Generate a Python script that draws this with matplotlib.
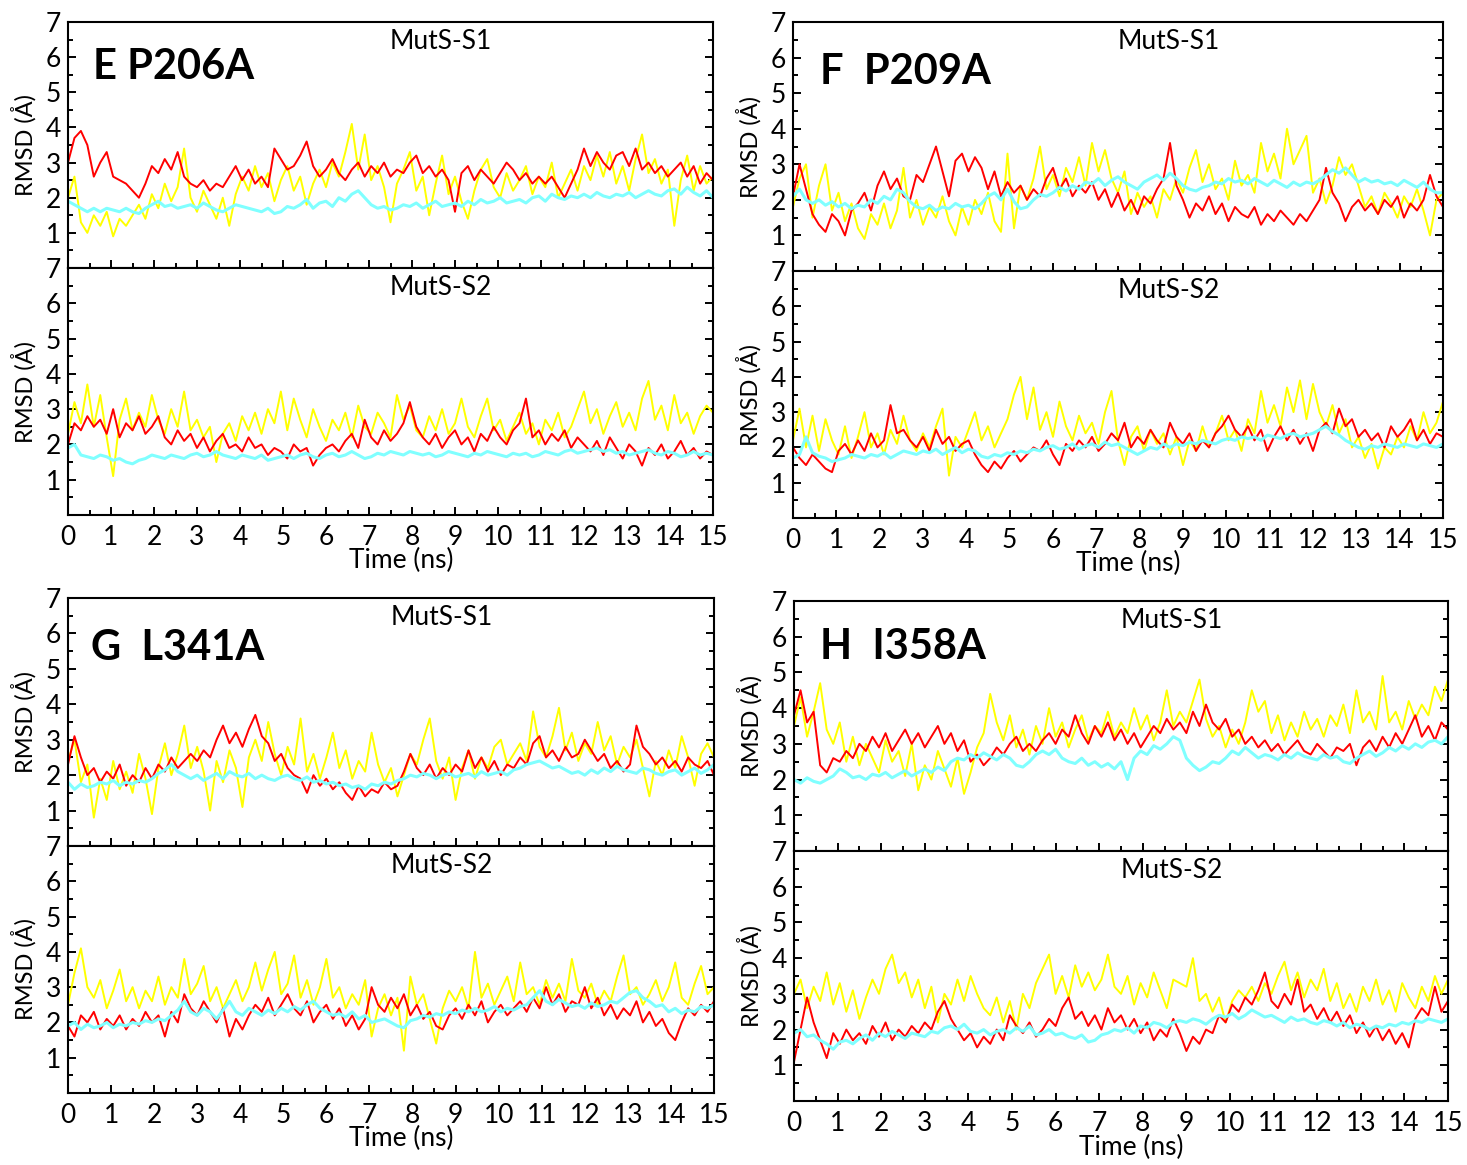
import numpy as np
import matplotlib
matplotlib.use("Agg")
import matplotlib.pyplot as plt
from matplotlib.ticker import MultipleLocator

plt.rcParams['font.family'] = ['Lato', 'DejaVu Sans']

# time axis (ns), 0.15 ns sampling
time_ns = np.linspace(0, 15, 101)

# ---------------- Panel E: P206A ----------------
e_s1_red = [3.0, 3.7, 3.9, 3.5, 2.6, 3.0, 3.3, 2.6, 2.5, 2.4,
            2.2, 2.0, 2.4, 2.9, 2.7, 3.1, 2.8, 3.3, 2.6, 2.4,
            2.3, 2.5, 2.2, 2.4, 2.3, 2.6, 2.9, 2.5, 2.8, 2.4,
            2.6, 2.3, 3.4, 3.1, 2.8, 2.9, 3.2, 3.6, 2.9, 2.6,
            2.8, 3.1, 2.7, 2.5, 2.8, 3.0, 2.6, 2.9, 2.7, 3.0,
            2.6, 2.8, 2.7, 3.0, 3.2, 2.7, 2.9, 2.6, 2.8, 2.5,
            1.6, 2.7, 2.9, 2.5, 2.8, 2.6, 2.4, 2.7, 3.0, 2.8,
            2.5, 2.7, 2.4, 2.6, 2.4, 2.6, 2.3, 2.0, 2.4, 2.8,
            3.4, 2.9, 3.3, 3.0, 2.8, 3.2, 3.3, 2.9, 3.4, 2.8,
            3.0, 2.7, 2.9, 2.6, 2.8, 3.0, 2.6, 2.9, 2.4, 2.7,
            2.5]
e_s1_yellow = [2.0, 2.6, 1.3, 1.0, 1.5, 1.2, 1.6, 0.9, 1.4, 1.2,
               1.5, 1.8, 1.4, 2.1, 1.7, 2.4, 1.9, 2.3, 3.4, 2.0,
               1.6, 2.2, 1.8, 1.4, 2.0, 1.2, 2.1, 2.6, 2.2, 2.9,
               2.3, 2.7, 1.9, 2.5, 2.9, 2.2, 2.6, 1.8, 2.4, 2.8,
               2.3, 3.0, 2.6, 3.3, 4.1, 2.8, 3.8, 2.5, 2.9, 2.3,
               1.3, 2.4, 2.8, 3.3, 2.2, 2.6, 1.5, 2.4, 3.2, 2.1,
               2.6, 1.9, 1.4, 2.2, 2.8, 3.1, 2.3, 2.0, 2.7, 2.2,
               2.5, 2.9, 2.1, 2.6, 2.3, 3.0, 2.0, 2.4, 2.8, 2.2,
               2.9, 2.5, 3.2, 2.6, 3.3, 2.4, 2.9, 2.2, 3.1, 3.8,
               2.7, 3.1, 2.4, 2.8, 1.2, 2.5, 3.2, 2.2, 2.9, 2.4,
               2.6]
e_s1_cyan = [1.9, 1.8, 1.7, 1.6, 1.7, 1.6, 1.7, 1.65, 1.6, 1.7,
             1.6, 1.55, 1.7, 1.8, 1.9, 1.75, 1.8, 1.7, 1.75, 1.8,
             1.7, 1.85, 1.75, 1.65, 1.6, 1.7, 1.8, 1.75, 1.7, 1.65,
             1.6, 1.7, 1.55, 1.6, 1.75, 1.7, 1.8, 1.95, 1.7, 1.85,
             1.9, 1.75, 2.0, 1.9, 2.1, 2.2, 2.0, 1.8, 1.7, 1.75,
             1.65, 1.7, 1.8, 1.75, 1.85, 1.7, 1.8, 1.9, 1.75, 1.8,
             1.85, 1.75, 1.9, 1.8, 1.95, 1.85, 1.9, 2.0, 1.85, 1.9,
             1.95, 1.85, 2.0, 2.05, 1.9, 2.1, 2.0, 1.95, 2.05, 2.0,
             2.1, 2.0, 2.15, 2.05, 2.0, 2.1, 2.05, 2.15, 2.0, 2.1,
             2.2, 2.1, 2.05, 2.2, 2.25, 2.1, 2.3, 2.15, 2.05, 2.2,
             2.0]
e_s2_red = [2.0, 2.6, 2.4, 2.8, 2.5, 2.7, 2.3, 3.0, 2.2, 2.6,
            2.4, 2.8, 2.3, 2.5, 2.8, 2.2, 2.0, 2.4, 2.1, 2.3,
            1.9, 2.2, 1.8, 2.1, 2.3, 1.9, 2.0, 1.8, 2.2, 1.9,
            2.0, 1.7, 1.9, 1.8, 1.6, 2.0, 1.8, 1.9, 1.4, 1.7,
            1.9, 2.0, 1.8, 2.1, 2.3, 1.9, 2.7, 2.2, 2.0, 2.4,
            2.1, 2.3, 2.6, 3.2, 2.5, 2.2, 2.0, 2.3, 1.9, 2.2,
            2.4, 2.0, 2.2, 1.8, 2.3, 2.1, 2.5, 2.2, 2.0, 2.4,
            2.6, 3.3, 2.2, 2.4, 2.0, 2.3, 2.1, 2.4, 1.9, 2.2,
            2.0, 1.8, 2.1, 1.7, 2.2, 1.9, 1.6, 2.0, 1.8, 1.4,
            1.9, 1.7, 2.0, 1.6, 1.8, 2.1, 1.7, 1.9, 1.6, 1.8,
            1.7]
e_s2_yellow = [2.3, 3.2, 2.6, 3.7, 2.5, 3.4, 2.2, 1.1, 2.7, 3.3,
               2.4, 2.9, 2.5, 3.4, 2.7, 2.3, 3.0, 2.5, 3.5, 2.4,
               2.7, 2.2, 2.5, 1.5, 2.3, 2.6, 2.1, 2.8, 2.4, 2.9,
               2.3, 3.0, 2.6, 3.5, 2.4, 3.3, 2.7, 2.2, 3.0, 2.5,
               2.1, 2.7, 2.4, 2.9, 2.2, 3.1, 2.5, 2.3, 2.9, 2.6,
               2.2, 3.4, 2.7, 3.1, 2.4, 2.2, 2.8, 2.4, 3.0, 2.3,
               2.6, 3.3, 2.5, 2.2, 2.8, 3.3, 2.4, 2.7, 2.1, 2.5,
               2.9, 2.3, 2.6, 2.0, 2.7, 2.4, 2.9, 2.2, 2.5, 3.0,
               3.5, 2.6, 3.0, 2.3, 2.8, 3.2, 2.5, 2.9, 2.4, 3.3,
               3.8, 2.7, 3.1, 2.4, 3.4, 2.6, 2.9, 2.3, 2.8, 3.1,
               2.9]
e_s2_cyan = [1.9, 2.0, 1.7, 1.65, 1.6, 1.7, 1.65, 1.55, 1.6, 1.5,
             1.45, 1.55, 1.6, 1.7, 1.65, 1.6, 1.7, 1.65, 1.6, 1.7,
             1.75, 1.65, 1.7, 1.8, 1.7, 1.65, 1.6, 1.7, 1.65, 1.6,
             1.7, 1.55, 1.6, 1.65, 1.7, 1.6, 1.7, 1.75, 1.65, 1.6,
             1.7, 1.75, 1.65, 1.7, 1.8, 1.7, 1.6, 1.65, 1.75, 1.7,
             1.8, 1.75, 1.7, 1.8, 1.75, 1.7, 1.75, 1.65, 1.7, 1.8,
             1.75, 1.7, 1.65, 1.75, 1.7, 1.8, 1.75, 1.7, 1.65, 1.75,
             1.7, 1.75, 1.65, 1.7, 1.8, 1.75, 1.7, 1.8, 1.85, 1.75,
             1.8, 1.85, 1.9, 1.8, 1.85, 1.75, 1.8, 1.7, 1.75, 1.8,
             1.85, 1.75, 1.7, 1.8, 1.75, 1.65, 1.7, 1.8, 1.7, 1.75,
             1.7]

# ---------------- Panel F: P209A ----------------
f_s1_red = [2.1, 3.0, 2.3, 1.6, 1.3, 1.1, 1.6, 1.4, 1.0, 1.7,
            1.9, 2.2, 1.7, 2.4, 2.8, 2.3, 2.6, 2.1, 2.0, 2.7,
            2.5, 3.0, 3.5, 2.8, 2.1, 3.1, 3.3, 2.8, 3.2, 2.9,
            2.3, 2.8, 2.1, 2.5, 2.2, 2.4, 2.0, 2.3, 2.1, 2.6,
            2.9, 2.3, 2.6, 2.1, 2.4, 2.2, 2.5, 2.0, 2.3, 1.8,
            2.2, 1.7, 2.0, 1.6, 2.1, 1.9, 2.3, 2.6, 3.6, 2.4,
            2.0, 1.5, 1.9, 1.7, 2.1, 1.6, 1.9, 1.4, 1.8, 1.6,
            1.5, 1.8, 1.3, 1.6, 1.4, 1.7, 1.5, 1.3, 1.6, 1.4,
            1.7, 2.0, 2.9, 2.2, 1.9, 1.4, 1.8, 2.0, 1.7, 1.9,
            1.6, 2.0, 1.8, 2.1, 1.5, 1.9, 1.7, 2.0, 2.7, 2.1,
            1.8]
f_s1_yellow = [1.8, 2.6, 3.0, 1.5, 2.4, 3.0, 1.7, 2.2, 1.4, 1.9,
               1.2, 0.9, 1.6, 1.3, 1.9, 1.2, 1.7, 2.9, 1.5, 2.0,
               1.3, 1.8, 1.5, 2.1, 1.4, 1.0, 1.8, 1.3, 2.0, 1.6,
               2.2, 1.4, 1.1, 3.3, 1.2, 2.4, 2.0, 2.6, 3.5, 2.3,
               2.7, 2.1, 2.9, 2.5, 3.2, 2.4, 3.6, 2.8, 3.4, 2.6,
               2.2, 2.8, 1.6, 2.2, 1.8, 2.1, 1.5, 2.3, 2.0, 2.6,
               2.2, 2.9, 3.4, 2.5, 3.0, 2.3, 2.6, 2.0, 3.1, 2.4,
               2.7, 2.2, 3.6, 2.8, 3.3, 2.6, 4.0, 3.0, 3.4, 3.8,
               2.2, 2.6, 1.9, 2.4, 3.2, 2.7, 3.0, 2.4, 1.8, 2.1,
               1.6, 2.2, 1.9, 1.5, 2.1, 1.8, 2.3, 1.7, 1.0, 2.0,
               2.2]
f_s1_cyan = [2.1, 2.3, 2.0, 1.9, 2.0, 1.85, 1.95, 1.8, 1.9, 1.75,
             1.85, 1.8, 2.0, 1.9, 2.1, 2.0, 2.3, 2.2, 1.95, 1.8,
             1.75, 1.85, 1.7, 1.8, 1.75, 1.9, 1.8, 1.85, 1.75, 1.9,
             2.1, 2.2, 2.0, 2.3, 1.95, 1.75, 1.8, 2.0, 2.15, 2.1,
             2.2, 2.35, 2.25, 2.4, 2.3, 2.5, 2.45, 2.6, 2.4, 2.55,
             2.65, 2.5, 2.4, 2.3, 2.5, 2.6, 2.7, 2.55, 2.75, 2.6,
             2.4, 2.3, 2.25, 2.35, 2.4, 2.5, 2.45, 2.6, 2.5, 2.55,
             2.45, 2.6, 2.5, 2.4, 2.55, 2.45, 2.35, 2.5, 2.4, 2.5,
             2.45, 2.55, 2.7, 2.85, 2.75, 2.9, 2.7, 2.5, 2.6, 2.5,
             2.55, 2.45, 2.5, 2.4, 2.55, 2.45, 2.35, 2.5, 2.3, 2.2,
             2.2]
f_s2_red = [2.0, 1.7, 1.5, 1.8, 1.6, 1.4, 1.3, 1.9, 2.1, 1.8,
            2.2, 1.9, 2.4, 2.0, 2.2, 3.2, 2.4, 2.5, 2.2, 2.0,
            2.3, 1.9, 2.5, 2.1, 2.3, 1.9, 2.1, 2.2, 1.8, 1.5,
            1.3, 1.6, 1.4, 1.7, 1.9, 1.6, 1.8, 2.0, 1.9, 2.2,
            1.8, 1.5, 2.1, 1.9, 2.2, 2.0, 2.3, 1.9, 2.1, 2.4,
            2.2, 2.7, 2.0, 2.3, 2.1, 2.5, 2.2, 2.0, 2.7, 2.3,
            2.1, 2.4, 1.9, 2.2, 2.0, 2.4, 2.6, 2.9, 2.5, 2.3,
            2.6, 2.2, 2.5, 1.9, 2.3, 2.6, 2.2, 2.5, 2.1, 2.4,
            1.9, 2.5, 2.7, 2.4, 3.1, 2.6, 2.8, 2.3, 2.5, 2.2,
            2.4, 2.0, 2.6, 2.3, 2.5, 2.8, 2.2, 2.5, 2.1, 2.4,
            2.3]
f_s2_yellow = [2.2, 3.1, 2.0, 2.9, 1.9, 2.8, 2.2, 1.8, 2.6, 1.7,
               2.3, 3.0, 2.0, 2.4, 1.8, 2.5, 2.1, 2.9, 2.2, 1.9,
               2.4, 2.0, 2.6, 3.1, 1.2, 2.3, 2.0, 2.5, 3.0, 2.2,
               2.6, 2.0, 2.4, 2.8, 3.5, 4.0, 2.8, 3.7, 2.5, 3.0,
               2.3, 3.3, 2.6, 2.2, 2.9, 2.4, 2.7, 2.1, 3.0, 3.6,
               2.2, 1.5, 2.3, 2.6, 1.9, 2.5, 2.1, 2.4, 1.8, 2.3,
               1.5, 2.2, 1.9, 2.6, 2.0, 2.4, 2.9, 2.2, 2.5, 1.9,
               2.8, 2.4, 3.6, 2.7, 3.2, 2.6, 3.7, 3.0, 3.9, 2.8,
               3.8, 3.0, 2.6, 3.2, 2.4, 2.8, 2.0, 2.3, 1.7, 2.1,
               1.4, 2.0, 1.8, 2.3, 2.0, 2.6, 2.2, 3.0, 2.4, 2.7,
               3.3]
f_s2_cyan = [1.7, 1.8, 2.3, 1.85, 1.75, 1.7, 1.6, 1.65, 1.7, 1.8,
             1.75, 1.7, 1.8, 1.75, 1.85, 1.7, 1.8, 1.9, 1.85, 1.8,
             1.9, 1.85, 1.95, 1.8, 1.9, 2.0, 1.85, 1.95, 1.9, 1.75,
             1.7, 1.8, 1.75, 1.85, 1.8, 1.9, 1.85, 1.95, 1.9, 2.0,
             2.05, 1.95, 2.0, 2.1, 1.95, 2.05, 2.1, 2.0, 2.15, 2.05,
             2.1, 2.0, 1.9, 1.8, 1.9, 2.0, 1.95, 2.1, 2.0, 2.1,
             2.05, 2.15, 2.1, 2.2, 2.15, 2.1, 2.2, 2.25, 2.2, 2.3,
             2.25, 2.3, 2.2, 2.35, 2.3, 2.25, 2.35, 2.4, 2.3, 2.35,
             2.4, 2.5, 2.6, 2.45, 2.35, 2.2, 2.1, 2.0, 1.95, 2.05,
             2.0, 2.1, 2.05, 2.0, 2.1, 2.05, 2.0, 2.1, 2.05, 2.0,
             2.1]

# ---------------- Panel G: L341A ----------------
g_s1_red = [2.3, 3.1, 2.5, 2.0, 2.2, 1.8, 2.1, 1.9, 2.3, 1.7,
            2.0, 1.8, 2.2, 1.9, 2.3, 2.1, 2.5, 2.2, 2.4, 2.6,
            2.4, 2.7, 2.5, 3.0, 3.4, 2.9, 3.2, 2.8, 3.3, 3.7,
            3.1, 2.9, 2.4, 2.6, 2.2, 2.0, 1.9, 1.5, 2.0, 1.7,
            1.9, 1.6, 1.8, 1.5, 1.3, 1.7, 1.4, 1.6, 1.5, 1.8,
            1.6, 1.7, 2.1, 2.6, 2.2, 2.0, 2.3, 1.9, 2.2, 2.0,
            2.3, 2.1, 2.7, 2.2, 2.5, 2.1, 2.4, 2.0, 2.3, 2.2,
            2.5, 2.3, 2.9, 3.1, 2.5, 2.7, 2.4, 2.8, 2.5, 2.6,
            3.0, 2.7, 2.4, 2.6, 2.2, 2.4, 2.1, 2.3, 3.4, 2.8,
            2.6, 2.3, 2.5, 2.2, 2.4, 2.1, 2.5, 2.3, 2.2, 2.4,
            2.0]
g_s1_yellow = [2.4, 3.0, 1.8, 2.3, 0.8, 1.9, 1.3, 2.4, 1.6, 2.1,
               1.5, 2.6, 1.9, 0.9, 2.2, 2.9, 2.0, 2.6, 3.4, 2.2,
               2.8, 2.1, 1.0, 2.4, 1.8, 2.7, 2.2, 1.1, 2.5, 3.0,
               2.4, 3.5, 2.6, 2.0, 2.8, 2.3, 3.6, 2.1, 2.6, 1.9,
               2.5, 3.2, 2.2, 2.7, 1.9, 2.4, 2.1, 3.2, 2.3, 1.8,
               2.2, 1.4, 2.0, 2.6, 2.3, 3.0, 3.6, 2.4, 1.9, 2.5,
               1.3, 2.2, 2.7, 1.9, 2.5, 2.2, 2.8, 3.0, 2.3, 2.6,
               2.9, 2.4, 3.8, 2.8, 2.5, 3.1, 3.9, 2.7, 3.2, 2.4,
               2.9, 2.6, 3.5, 2.7, 3.1, 2.3, 2.8, 2.5, 3.0, 2.2,
               1.4, 2.4, 2.0, 2.7, 2.2, 3.1, 2.5, 1.7, 2.6, 2.9,
               2.5]
g_s1_cyan = [1.8, 1.6, 1.75, 1.65, 1.7, 1.8, 1.75, 1.85, 1.7, 1.8,
             1.75, 1.85, 1.8, 1.9, 2.05, 2.15, 2.3, 2.1, 2.0, 1.9,
             2.0, 1.85, 1.95, 2.05, 1.9, 2.1, 2.0, 1.95, 2.05, 1.9,
             2.0, 1.9, 1.85, 1.95, 2.0, 1.9, 1.85, 1.95, 1.8, 1.85,
             1.75, 1.8, 1.7, 1.75, 1.65, 1.7, 1.6, 1.75, 1.7, 1.8,
             1.75, 1.85, 1.9, 2.0, 1.95, 2.05, 2.0, 1.9, 2.0, 2.05,
             1.95, 2.0, 2.05, 1.95, 2.1, 2.0, 2.05, 2.1, 2.0, 2.15,
             2.2, 2.3, 2.35, 2.4, 2.3, 2.2, 2.25, 2.15, 2.05, 2.1,
             2.0, 2.15, 2.05, 2.2, 2.1, 2.25, 2.15, 2.1, 2.05, 2.2,
             2.15, 2.05, 2.0, 2.1, 2.15, 2.0, 2.1, 2.2, 2.05, 2.15,
             2.3]
g_s2_red = [1.9, 1.6, 2.2, 2.0, 2.3, 1.8, 2.1, 1.9, 2.2, 1.8,
            2.1, 1.9, 2.3, 2.0, 2.2, 1.6, 2.3, 2.0, 2.8, 2.4,
            2.2, 2.6, 2.3, 2.0, 2.4, 1.6, 2.1, 1.8, 2.2, 2.5,
            2.3, 2.7, 2.2, 2.5, 2.8, 2.4, 2.2, 2.6, 2.0, 2.3,
            2.5, 2.1, 2.4, 1.9, 2.2, 1.8, 2.1, 3.0, 2.5, 2.3,
            2.7, 2.4, 2.8, 2.2, 2.5, 2.1, 2.3, 1.9, 1.8, 2.2,
            2.4, 2.1, 2.5, 2.2, 2.6, 2.0, 2.3, 2.5, 2.2, 2.4,
            2.6, 2.3, 2.7, 2.4, 3.0, 2.5, 2.8, 2.3, 2.6, 2.5,
            3.0, 2.4, 2.7, 2.2, 2.5, 2.1, 2.4, 2.2, 2.6, 2.0,
            2.3, 1.9, 2.1, 1.7, 1.5, 2.0, 2.4, 2.2, 2.5, 2.3,
            2.6]
g_s2_yellow = [2.5, 3.4, 4.1, 3.0, 2.7, 3.2, 2.4, 2.9, 3.5, 2.6,
               3.0, 2.4, 2.9, 2.6, 3.3, 2.5, 3.0, 2.7, 3.8, 2.8,
               3.1, 3.6, 2.6, 3.0, 2.4, 2.8, 3.2, 2.6, 3.0, 3.7,
               2.9, 3.5, 4.0, 2.8, 3.1, 3.9, 2.7, 3.2, 2.5, 3.0,
               3.8, 2.7, 3.0, 2.4, 2.8, 2.5, 3.2, 1.6, 2.4, 2.8,
               2.2, 2.7, 1.2, 3.3, 2.5, 2.8, 2.1, 1.4, 2.4, 2.9,
               2.6, 3.0, 2.4, 4.0, 2.7, 3.1, 2.5, 2.9, 3.3, 2.6,
               3.7, 2.8, 3.0, 2.5, 3.2, 2.7, 3.1, 2.6, 3.8, 2.9,
               2.7, 3.1, 2.5, 2.9, 2.6, 3.3, 3.9, 2.8, 3.0, 2.5,
               2.8, 3.2, 2.6, 3.0, 3.7, 2.7, 2.5, 3.1, 3.6, 2.8,
               3.0]
g_s2_cyan = [1.9, 2.0, 1.8, 1.95, 1.85, 1.9, 2.0, 1.85, 1.95, 1.9,
             2.0, 1.95, 2.05, 2.0, 2.1, 2.05, 2.2, 2.35, 2.6, 2.3,
             2.2, 2.4, 2.3, 2.1, 2.35, 2.6, 2.3, 2.2, 2.4, 2.3,
             2.2, 2.35, 2.25, 2.4, 2.3, 2.45, 2.35, 2.5, 2.6, 2.4,
             2.3, 2.2, 2.25, 2.15, 2.3, 2.1, 2.2, 2.0, 2.05, 2.1,
             2.0, 1.9, 1.85, 2.05, 2.1, 2.2, 2.15, 2.25, 2.2, 2.3,
             2.25, 2.35, 2.3, 2.4, 2.3, 2.35, 2.45, 2.3, 2.4, 2.35,
             2.45, 2.5, 2.7, 2.9, 2.6, 2.5, 2.65, 2.55, 2.45, 2.5,
             2.4, 2.55, 2.45, 2.5, 2.6, 2.55, 2.7, 2.85, 2.9, 2.7,
             2.6, 2.45, 2.5, 2.3, 2.4, 2.25, 2.35, 2.3, 2.45, 2.4,
             2.5]

# ---------------- Panel H: I358A ----------------
h_s1_red = [3.8, 4.5, 3.6, 3.9, 2.4, 2.2, 2.6, 2.5, 2.8, 2.6,
            3.0, 2.8, 3.2, 2.9, 3.3, 2.8, 3.1, 3.4, 3.0, 3.3,
            2.9, 3.2, 3.5, 3.0, 3.3, 2.8, 3.1, 2.5, 2.7, 2.4,
            2.6, 2.9, 2.7, 3.0, 3.2, 2.8, 3.0, 2.8, 3.1, 3.3,
            3.0, 3.4, 3.2, 3.8, 3.3, 3.0, 3.5, 3.2, 3.6, 3.1,
            3.4, 3.0, 3.3, 2.9, 3.2, 3.5, 3.3, 3.7, 3.4, 3.6,
            3.3, 3.9, 3.5, 4.1, 3.6, 3.4, 3.7, 3.2, 3.4, 3.0,
            3.2, 2.9, 3.1, 2.8, 3.0, 2.7, 2.9, 3.1, 2.8, 2.7,
            3.0, 2.8, 2.6, 2.9, 2.8, 3.0, 2.4, 2.9, 3.1, 2.8,
            3.2, 2.9, 3.3, 3.0, 3.4, 3.8, 3.2, 3.5, 3.1, 3.6,
            3.4]
h_s1_yellow = [3.5, 4.3, 3.2, 3.9, 4.7, 3.4, 3.0, 3.6, 2.5, 3.2,
               2.4, 3.0, 2.6, 2.2, 3.1, 2.5, 2.8, 2.1, 3.0, 1.7,
               2.4, 2.0, 2.8, 2.3, 1.8, 2.6, 1.6, 2.2, 2.9, 3.3,
               4.4, 3.6, 3.1, 3.8, 2.9, 3.4, 2.7, 3.5, 3.0, 4.0,
               3.2, 3.6, 2.9, 3.4, 3.8, 3.1, 3.5, 3.3, 3.9, 3.2,
               3.6, 3.3, 4.0, 3.4, 3.8, 3.1, 3.6, 4.5, 3.5, 3.9,
               3.6, 4.2, 4.8, 3.7, 3.2, 3.5, 2.9, 3.4, 3.0, 3.6,
               4.5, 3.9, 4.2, 3.3, 3.8, 3.1, 3.6, 3.2, 3.9, 3.4,
               3.7, 3.2, 3.8, 3.5, 4.1, 3.3, 4.5, 3.6, 3.9, 3.4,
               4.9, 3.6, 3.9, 3.4, 4.2, 3.7, 4.1, 3.8, 4.6, 4.2,
               4.8]
h_s1_cyan = [2.0, 1.9, 2.05, 1.95, 1.9, 2.0, 2.1, 2.3, 2.2, 2.05,
             2.1, 2.0, 2.15, 2.1, 2.2, 2.05, 2.15, 2.25, 2.1, 2.2,
             2.3, 2.2, 2.35, 2.25, 2.5, 2.6, 2.55, 2.7, 2.6, 2.75,
             2.65, 2.55, 2.7, 2.6, 2.4, 2.35, 2.5, 2.7, 2.8, 2.7,
             2.85, 2.6, 2.5, 2.45, 2.6, 2.4, 2.5, 2.35, 2.45, 2.3,
             2.5, 2.0, 2.6, 2.8, 2.7, 2.95, 2.85, 3.0, 3.2, 3.1,
             2.6, 2.4, 2.25, 2.35, 2.5, 2.45, 2.6, 2.8, 2.7, 2.9,
             2.75, 2.6, 2.7, 2.65, 2.55, 2.7, 2.6, 2.75, 2.65, 2.6,
             2.55, 2.7, 2.6, 2.65, 2.5, 2.45, 2.6, 2.7, 2.8, 2.65,
             2.75, 2.9, 2.8, 2.95, 2.85, 3.0, 2.9, 3.05, 3.1, 3.0,
             3.2]
h_s2_red = [1.1, 2.0, 2.9, 2.2, 1.7, 1.2, 1.9, 1.6, 2.0, 1.7,
            1.9, 1.6, 2.1, 1.8, 2.2, 1.7, 2.0, 1.8, 2.1, 1.9,
            2.2, 2.0, 2.5, 2.8, 2.3, 2.0, 1.7, 1.9, 1.5, 1.8,
            1.6, 2.0, 1.7, 2.4, 2.1, 1.9, 2.2, 1.8, 2.0, 2.3,
            2.1, 2.6, 2.9, 2.3, 2.5, 2.1, 2.4, 2.0, 2.6, 2.2,
            2.4, 2.0, 2.3, 1.9, 2.2, 1.7, 2.0, 1.8, 2.3, 1.9,
            1.4, 1.8, 1.6, 2.0, 1.9, 2.4, 2.2, 2.7, 2.5, 2.9,
            2.7, 3.1, 3.6, 2.8, 2.6, 3.0, 2.7, 3.4, 2.5, 2.7,
            2.3, 2.6, 2.2, 2.5, 2.1, 2.4, 1.9, 2.2, 1.8, 2.1,
            1.7, 2.0, 1.6, 1.9, 1.5, 2.3, 2.6, 2.4, 3.2, 2.5,
            2.8]
h_s2_yellow = [3.0, 3.4, 2.6, 3.2, 2.8, 3.6, 2.7, 3.3, 2.5, 3.1,
               2.3, 2.9, 3.4, 3.0, 3.7, 4.1, 3.3, 3.6, 2.9, 3.4,
               2.6, 3.2, 2.2, 3.0, 2.7, 3.4, 2.8, 3.5, 3.0, 2.6,
               2.4, 2.9, 2.2, 2.8, 2.0, 3.0, 2.6, 3.3, 3.7, 4.1,
               3.0, 3.5, 2.9, 3.8, 3.2, 3.6, 3.1, 3.4, 4.1, 3.2,
               3.0, 3.5, 2.7, 3.3, 2.9, 3.6, 3.1, 2.6, 3.4, 3.3,
               3.2, 4.0, 2.8, 3.0, 2.5, 2.9, 2.2, 2.8, 3.1, 2.9,
               3.2, 2.8, 3.3, 3.0, 3.5, 3.9, 3.1, 3.6, 2.9, 3.4,
               3.1, 3.7, 2.8, 3.3, 2.6, 3.0, 2.5, 3.2, 2.8, 3.4,
               2.7, 3.1, 2.5, 3.3, 2.9, 2.6, 3.2, 2.8, 3.5, 3.0,
               3.4]
h_s2_cyan = [1.9, 2.0, 1.8, 1.85, 1.7, 1.6, 1.45, 1.65, 1.7, 1.6,
             1.75, 1.85, 1.7, 1.9, 1.8, 1.95, 1.85, 1.75, 1.9, 1.85,
             1.8, 1.95, 1.9, 2.05, 2.1, 2.0, 2.15, 1.95, 1.9, 2.0,
             1.85, 1.95, 2.0, 1.9, 2.05, 1.95, 2.1, 1.85, 1.9, 2.0,
             1.85, 1.9, 1.8, 1.75, 1.85, 1.65, 1.7, 1.85, 1.9, 2.0,
             1.95, 2.05, 1.9, 2.1, 2.05, 2.2, 2.15, 2.05, 2.2, 2.25,
             2.2, 2.3, 2.25, 2.15, 2.3, 2.4, 2.35, 2.45, 2.3, 2.4,
             2.55, 2.45, 2.35, 2.4, 2.3, 2.2, 2.35, 2.25, 2.3, 2.2,
             2.15, 2.25, 2.2, 2.1, 2.2, 2.05, 2.15, 2.1, 2.0, 2.1,
             2.05, 2.15, 2.1, 2.2, 2.15, 2.25, 2.2, 2.3, 2.25, 2.2,
             2.3]

panel_titles = ["E P206A", "F  P209A", "G  L341A", "H  I358A"]
sub_titles = ["MutS-S1", "MutS-S2"]
x_ticks = list(range(0, 16))
y_ticks = [1, 2, 3, 4, 5, 6, 7]

series = [
    [(e_s1_red, e_s1_yellow, e_s1_cyan), (e_s2_red, e_s2_yellow, e_s2_cyan)],
    [(f_s1_red, f_s1_yellow, f_s1_cyan), (f_s2_red, f_s2_yellow, f_s2_cyan)],
    [(g_s1_red, g_s1_yellow, g_s1_cyan), (g_s2_red, g_s2_yellow, g_s2_cyan)],
    [(h_s1_red, h_s1_yellow, h_s1_cyan), (h_s2_red, h_s2_yellow, h_s2_cyan)],
]

W, H = 1467, 1165
# pixel boxes: (left, right, top_of_top, boundary, bottom)
boxes = [
    (68, 713, 22, 268, 515),
    (793, 1443, 22, 271, 518),
    (68, 714, 598, 846, 1093),
    (794, 1448, 601, 851, 1101),
]
title_pos = [(0.039, 0.817), (0.042, 0.80), (0.036, 0.80), (0.04, 0.816)]

RED, YEL, CYA = "#ff0000", "#ffff00", "#80ffff"

fig = plt.figure(figsize=(W / 100, H / 100), dpi=100)


def style_axis(ax, bottom_labels):
    ax.set_xlim(0, 15)
    ax.set_ylim(0, 7)
    ax.set_xticks(x_ticks)
    ax.set_yticks(y_ticks)
    ax.xaxis.set_minor_locator(MultipleLocator(0.5))
    ax.yaxis.set_minor_locator(MultipleLocator(0.5))
    ax.tick_params(axis="both", which="both", direction="in", width=1.4,
                   top=False, right=True, left=True, bottom=True)
    ax.tick_params(axis="both", which="major", length=5.5)
    ax.tick_params(axis="both", which="minor", length=3.5)
    ax.tick_params(axis="y", which="major", labelsize=19, pad=5)
    ax.tick_params(axis="x", which="major", labelsize=19, pad=7,
                   labelbottom=bottom_labels)
    for sp in ax.spines.values():
        sp.set_linewidth(1.5)


for p, (l, r, t, mid, b) in enumerate(boxes):
    for k, (y0, y1) in enumerate([(t, mid), (mid, b)]):
        rect = [l / W, 1 - y1 / H, (r - l) / W, (y1 - y0) / H]
        ax = fig.add_axes(rect)
        red, yel, cya = series[p][k]
        ax.plot(time_ns, yel, color=YEL, lw=1.4)
        ax.plot(time_ns, red, color=RED, lw=1.4)
        ax.plot(time_ns, cya, color=CYA, lw=2.2)
        style_axis(ax, bottom_labels=(k == 1))
        ax.set_ylabel("RMSD (Å)", fontsize=17)
        ax.yaxis.set_label_coords(-0.048, 0.5)
        ax.text(0.578, 0.92, sub_titles[k], transform=ax.transAxes,
                fontsize=19, ha="center", va="center")
        if k == 0:
            tx, ty = title_pos[p]
            ax.text(tx, ty, panel_titles[p], transform=ax.transAxes,
                    fontsize=30, fontweight="bold", ha="left", va="center")
        else:
            ax.set_xlabel("Time (ns)", fontsize=19)
            ax.xaxis.set_label_coords(0.516, -0.135)

fig.savefig("out.png", dpi=100)
